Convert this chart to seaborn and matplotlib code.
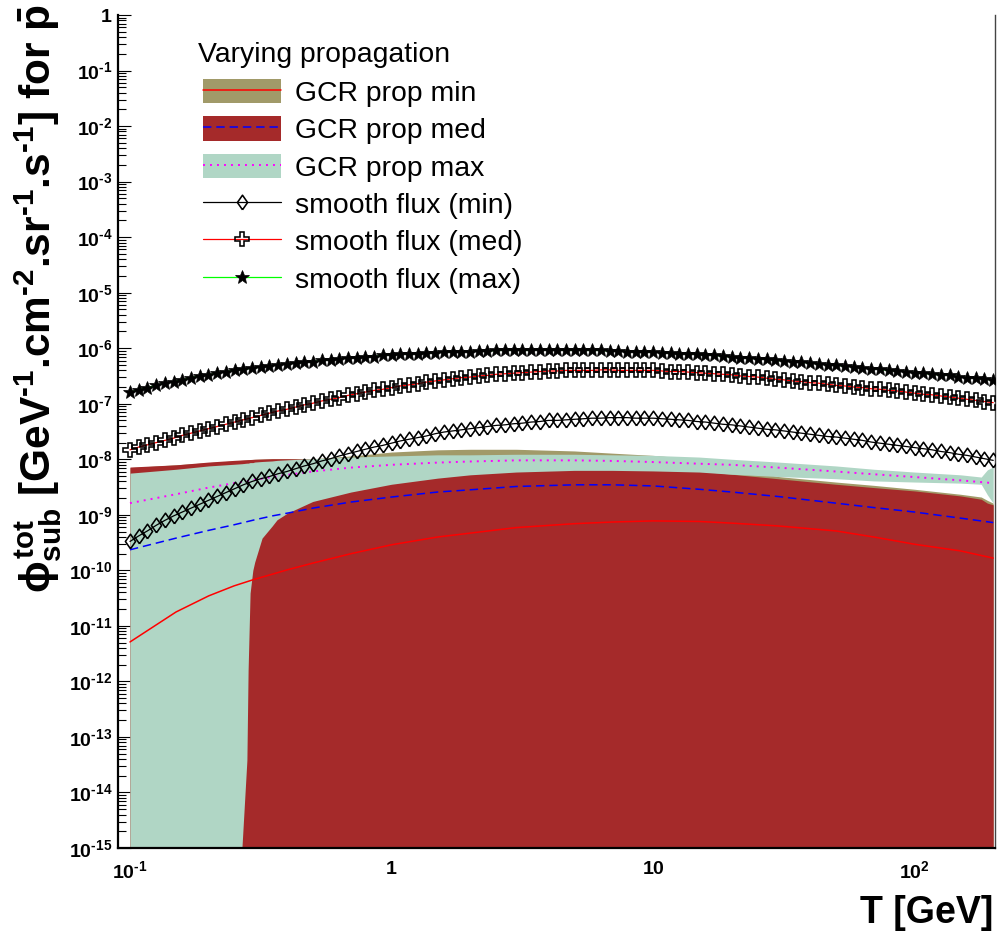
import numpy as np
import matplotlib
matplotlib.use("Agg")
import matplotlib.pyplot as plt
import seaborn as sns
from matplotlib.lines import Line2D
from matplotlib.patches import Patch
from matplotlib.legend_handler import HandlerTuple
from matplotlib.ticker import FixedLocator, FixedFormatter, LogLocator, NullFormatter

# ---------------- data (values are log10 of the flux) ----------------
T_GRID = [0.1, 0.108, 0.1166, 0.1259, 0.136, 0.1468, 0.1585, 0.1712, 0.1848, 0.1996,
          0.2155, 0.2327, 0.2513, 0.2713, 0.293, 0.3164, 0.3416, 0.3689, 0.3983, 0.4301,
          0.4644, 0.5015, 0.5415, 0.5847, 0.6314, 0.6817, 0.7361, 0.7949, 0.8583, 0.9268,
          1.0007, 1.0808, 1.1669, 1.2599, 1.361, 1.4691, 1.5862, 1.7133, 1.8494, 1.9975,
          2.1566, 2.3287, 2.5149, 2.716, 2.9322, 3.1663, 3.4195, 3.6917, 3.9869, 4.3052,
          4.6484, 5.0197, 5.42, 5.8523, 6.3197, 6.824, 7.3684, 7.9559, 8.5904, 9.2749,
          10.015, 10.816, 11.677, 12.609, 13.62, 14.702, 15.873, 17.145, 18.508, 19.99,
          21.582, 23.304, 25.167, 27.18, 29.343, 31.687, 34.221, 36.945, 39.899, 43.084,
          46.519, 50.234, 54.24, 58.567, 63.243, 68.291, 73.739, 79.618, 85.967, 92.817,
          100.22, 108.24, 116.86, 126.18, 136.3, 147.12, 158.85, 171.58, 185.21, 200.0]

smooth_max_log = [-6.79, -6.75, -6.71, -6.67, -6.63, -6.60, -6.57, -6.53, -6.50, -6.48,
                  -6.45, -6.42, -6.40, -6.38, -6.36, -6.34, -6.32, -6.30, -6.28, -6.27,
                  -6.25, -6.24, -6.22, -6.21, -6.19, -6.18, -6.17, -6.16, -6.15, -6.13,
                  -6.12, -6.11, -6.10, -6.10, -6.09, -6.08, -6.07, -6.07, -6.06, -6.06,
                  -6.05, -6.05, -6.04, -6.04, -6.04, -6.04, -6.04, -6.03, -6.03, -6.03,
                  -6.04, -6.04, -6.04, -6.04, -6.04, -6.05, -6.05, -6.06, -6.06, -6.07,
                  -6.07, -6.08, -6.09, -6.10, -6.10, -6.11, -6.12, -6.13, -6.14, -6.16,
                  -6.17, -6.18, -6.19, -6.20, -6.22, -6.23, -6.24, -6.25, -6.27, -6.28,
                  -6.30, -6.31, -6.32, -6.34, -6.35, -6.37, -6.38, -6.40, -6.41, -6.42,
                  -6.44, -6.45, -6.47, -6.48, -6.49, -6.51, -6.53, -6.54, -6.56, -6.57]

smooth_med_log = [-7.83, -7.78, -7.74, -7.70, -7.66, -7.62, -7.57, -7.53, -7.49, -7.45,
                  -7.41, -7.37, -7.33, -7.29, -7.25, -7.21, -7.17, -7.13, -7.10, -7.06,
                  -7.02, -6.99, -6.95, -6.92, -6.89, -6.85, -6.82, -6.79, -6.76, -6.74,
                  -6.71, -6.68, -6.66, -6.64, -6.61, -6.59, -6.57, -6.55, -6.53, -6.52,
                  -6.50, -6.49, -6.47, -6.46, -6.45, -6.44, -6.43, -6.42, -6.41, -6.41,
                  -6.40, -6.40, -6.40, -6.40, -6.39, -6.39, -6.40, -6.40, -6.40, -6.40,
                  -6.40, -6.41, -6.42, -6.42, -6.43, -6.44, -6.45, -6.46, -6.47, -6.48,
                  -6.50, -6.51, -6.52, -6.54, -6.56, -6.57, -6.59, -6.60, -6.62, -6.63,
                  -6.65, -6.67, -6.68, -6.70, -6.71, -6.73, -6.74, -6.76, -6.77, -6.79,
                  -6.81, -6.83, -6.84, -6.86, -6.88, -6.90, -6.92, -6.94, -6.96, -6.98]

smooth_min_log = [-9.48, -9.38, -9.29, -9.19, -9.10, -9.02, -8.95, -8.88, -8.81, -8.74,
                  -8.67, -8.60, -8.53, -8.46, -8.40, -8.35, -8.31, -8.26, -8.22, -8.17,
                  -8.12, -8.08, -8.03, -7.99, -7.94, -7.90, -7.86, -7.82, -7.78, -7.75,
                  -7.71, -7.67, -7.64, -7.61, -7.58, -7.54, -7.51, -7.49, -7.47, -7.45,
                  -7.43, -7.41, -7.39, -7.38, -7.36, -7.35, -7.33, -7.32, -7.30, -7.30,
                  -7.29, -7.28, -7.27, -7.26, -7.26, -7.25, -7.25, -7.25, -7.26, -7.26,
                  -7.26, -7.27, -7.28, -7.29, -7.30, -7.32, -7.33, -7.35, -7.37, -7.38,
                  -7.40, -7.42, -7.44, -7.46, -7.47, -7.49, -7.51, -7.53, -7.55, -7.57,
                  -7.59, -7.60, -7.62, -7.64, -7.66, -7.69, -7.71, -7.73, -7.75, -7.77,
                  -7.79, -7.81, -7.83, -7.86, -7.88, -7.91, -7.93, -7.96, -7.99, -8.02]

LINE_T = [0.1, 0.15, 0.2, 0.25, 0.3, 0.35, 0.4, 0.5, 0.7, 1, 1.5, 2, 3, 5, 7, 10,
          15, 20, 30, 50, 70, 100, 150, 200]
prop_min_central_log = [-11.29, -10.75, -10.46, -10.28, -10.16, -10.07, -9.99, -9.87, -9.70,
                        -9.54, -9.40, -9.33, -9.23, -9.16, -9.13, -9.11, -9.12, -9.15, -9.20,
                        -9.29, -9.40, -9.53, -9.65, -9.78]
prop_med_central_log = [-9.63, -9.42, -9.28, -9.18, -9.09, -9.02, -8.97, -8.88, -8.77, -8.68,
                        -8.59, -8.55, -8.49, -8.46, -8.46, -8.48, -8.54, -8.59, -8.67, -8.79,
                        -8.87, -8.95, -9.06, -9.14]
prop_max_central_log = [-8.79, -8.63, -8.51, -8.43, -8.37, -8.32, -8.28, -8.22, -8.15, -8.10,
                        -8.06, -8.04, -8.02, -8.02, -8.03, -8.05, -8.08, -8.10, -8.15, -8.22,
                        -8.27, -8.32, -8.38, -8.43]

BAND_T = [0.1, 0.15, 0.2, 0.25, 0.3, 0.35, 0.4, 0.5, 0.7, 1, 1.5, 2, 3, 5, 7, 10,
          15, 20, 30, 50, 70, 100, 150, 180, 190, 200]
band_min_hi_log = [-8.15, -8.10, -8.06, -8.03, -8.00, -7.99, -7.99, -7.99, -7.94, -7.87,
                   -7.83, -7.82, -7.82, -7.85, -7.89, -7.93, -8.00, -8.12, -8.31, -8.41,
                   -8.47, -8.54, -8.63, -8.68, -8.74, -8.79]
band_min_lo_log = [-20, -20, -20, -20, -20, -20, -20, -20, -20, -20, -20, -20, -20,
                   -20, -20, -20, -20, -20, -20, -20, -20, -20, -20, -20, -20, -20]
band_med_hi_log = [-8.14, -8.10, -8.05, -8.02, -8.00, -7.99, -7.99, -8.00, -8.01, -8.03,
                   -8.05, -8.07, -8.10, -8.12, -8.14, -8.17, -8.21, -8.27, -8.35, -8.45,
                   -8.51, -8.57, -8.66, -8.72, -8.79, -8.82]
band_med_lo_log = [-20, -20, -20, -20, -20, -20, -20, -20, -20, -20, -20, -20, -20,
                   -20, -20, -20, -20, -20, -20, -20, -20, -20, -20, -20, -20, -20]

MAX_BAND_T = [0.1, 0.15, 0.2, 0.25, 0.268, 0.28, 0.283, 0.288, 0.295, 0.3, 0.32, 0.35,
              0.365, 0.4, 0.5, 0.7, 1, 1.5, 2, 3, 5, 7, 10, 15, 20, 30, 50, 70, 100,
              150, 180, 190, 200]
band_max_hi_log = [-8.25, -8.18, -8.12, -8.09, -8.08, -8.07, -8.07, -8.06, -8.06, -8.05,
                   -8.04, -8.03, -8.02, -8.01, -7.99, -7.96, -7.94, -7.92, -7.92, -7.91,
                   -7.91, -7.92, -7.93, -7.96, -8.00, -8.05, -8.12, -8.18, -8.23, -8.28,
                   -8.32, -8.19, -8.14]
band_max_lo_log = [-20, -20, -20, -20, -15.0, -13.42, -11.80, -10.41, -10.00, -9.85,
                   -9.42, -9.20, -9.09, -8.97, -8.76, -8.59, -8.45, -8.34, -8.28, -8.23,
                   -8.20, -8.20, -8.21, -8.23, -8.27, -8.31, -8.35, -8.39, -8.41, -8.43,
                   -8.45, -8.64, -8.79]

LEGEND_TITLE = "Varying propagation"
LEGEND_LABELS = ["GCR prop min", "GCR prop med", "GCR prop max",
                 "smooth flux (min)", "smooth flux (med)", "smooth flux (max)"]
HY = "\u2010"
X_TICKS = [0.1, 1, 10, 100]
X_TICK_LABELS = [r"$10^{" + HY + "1}$", r"$1$", r"$10$", r"$10^{2}$"]
Y_TICKS = [10.0 ** k for k in range(-15, 1)]
Y_TICK_LABELS = [r"$10^{" + HY + "%d}$" % (-k) for k in range(-15, 0)] + [r"$1$"]
X_LABEL = "T [GeV]"
Y_LABEL = (r"$\phi^{tot}_{sub}$ [GeV$^{" + HY + "1}$.cm$^{" + HY + "2}$.sr$^{" + HY +
           "1}$.s$^{" + HY + r"1}$] for $\bar{p}$")

# ---------------- style ----------------
sns.set_theme(style="ticks")
plt.rcParams["font.family"] = ["Liberation Sans", "DejaVu Sans"]
plt.rcParams["mathtext.fontset"] = "custom"
plt.rcParams["mathtext.rm"] = "Liberation Sans:bold"
plt.rcParams["mathtext.it"] = "Liberation Sans:bold"
plt.rcParams["mathtext.bf"] = "Liberation Sans:bold"
plt.rcParams["mathtext.sf"] = "Liberation Sans:bold"
for k in ["text.color", "axes.labelcolor", "xtick.color", "ytick.color",
          "xtick.labelcolor", "ytick.labelcolor"]:
    plt.rcParams[k] = "black"

OLIVE = "#a19a69"
BROWN = "#a52a2a"
MINT = "#b0d6c5"

fig = plt.figure(figsize=(9.97, 9.36), dpi=100)
ax = fig.add_axes([118 / 997, 88 / 936, 877 / 997, 833 / 936])
ax.set_xscale("log")
ax.set_yscale("log")

def p10(a):
    return 10.0 ** np.asarray(a, dtype=float)

ax.fill_between(BAND_T, p10(band_min_lo_log), p10(band_min_hi_log), color=OLIVE, lw=0, zorder=1.0)
ax.fill_between(BAND_T, p10(band_med_lo_log), p10(band_med_hi_log), color=BROWN, lw=0, zorder=1.1)
ax.fill_between(MAX_BAND_T, p10(band_max_lo_log), p10(band_max_hi_log), color=MINT, lw=0, zorder=1.2)

sns.lineplot(x=LINE_T, y=p10(prop_min_central_log), ax=ax, color="#ff0000", lw=1.1,
             estimator=None, sort=False, legend=False, zorder=2)
sns.lineplot(x=LINE_T, y=p10(prop_med_central_log), ax=ax, color="#0000ff", lw=1.1,
             estimator=None, sort=False, legend=False, zorder=2)
ax.lines[-1].set_dashes([5.5, 3.2])
sns.lineplot(x=LINE_T, y=p10(prop_max_central_log), ax=ax, color="#ff00ff", lw=1.4,
             estimator=None, sort=False, legend=False, zorder=2)
ax.lines[-1].set_dashes([1.0, 2.6])

DIAMOND = [(0, -1), (0.7, 0), (0, 1), (-0.7, 0), (0, -1)]
MS_D, MS_P, MS_S = 10.5, 10.0, 10.5
sns.lineplot(x=T_GRID, y=p10(smooth_min_log), ax=ax, color="black", lw=0.9,
             marker=DIAMOND, markersize=MS_D, markerfacecolor="none",
             markeredgecolor="black", markeredgewidth=1.15,
             estimator=None, sort=False, legend=False, zorder=3)
sns.lineplot(x=T_GRID, y=p10(smooth_med_log), ax=ax, color="#ff0000", lw=0.9,
             marker="P", markersize=MS_P, markerfacecolor="none",
             markeredgecolor="black", markeredgewidth=1.15,
             estimator=None, sort=False, legend=False, zorder=3)
sns.lineplot(x=T_GRID, y=p10(smooth_max_log), ax=ax, color="#00ff00", lw=0.9,
             marker="*", markersize=MS_S, markerfacecolor="black",
             markeredgecolor="black", markeredgewidth=0.5,
             estimator=None, sort=False, legend=False, zorder=3)

ax.set_xlim(0.0900, 203.2)
ax.set_ylim(1e-15, 1)

ax.xaxis.set_major_locator(FixedLocator(X_TICKS))
ax.xaxis.set_major_formatter(FixedFormatter(X_TICK_LABELS))
ax.yaxis.set_major_locator(FixedLocator(Y_TICKS))
ax.yaxis.set_major_formatter(FixedFormatter(Y_TICK_LABELS))
ax.xaxis.set_minor_locator(LogLocator(base=10, subs=np.arange(2, 10), numticks=100))
ax.yaxis.set_minor_locator(LogLocator(base=10, subs=np.arange(2, 10), numticks=100))
ax.xaxis.set_minor_formatter(NullFormatter())
ax.yaxis.set_minor_formatter(NullFormatter())

ax.tick_params(axis="y", which="major", direction="in", length=9, width=0.8,
               color="black", labelsize=14, pad=4)
ax.tick_params(axis="y", which="minor", direction="in", length=6, width=0.8, color="black")
ax.tick_params(axis="x", which="both", direction="in", length=3, width=0.8,
               color="white", labelsize=14, pad=9)
ax.tick_params(axis="x", which="major", length=4)

for s in ["left", "bottom"]:
    ax.spines[s].set_linewidth(1.6)
    ax.spines[s].set_color("black")
ax.spines["top"].set_visible(False)
ax.spines["right"].set_linewidth(1.0)
ax.spines["right"].set_color("#444444")
ax.set_facecolor("white")
ax.set_xlabel("")
ax.set_ylabel("")

handles = [
    (Patch(facecolor=OLIVE, edgecolor="none"), Line2D([], [], color="#ff0000", lw=1.1)),
    (Patch(facecolor=BROWN, edgecolor="none"), Line2D([], [], color="#0000ff", lw=1.1, dashes=[5.5, 3.2])),
    (Patch(facecolor=MINT, edgecolor="none"), Line2D([], [], color="#ff00ff", lw=1.4, dashes=[1.0, 2.6])),
    Line2D([], [], color="black", lw=0.9, marker=DIAMOND, markersize=MS_D,
           markerfacecolor="none", markeredgecolor="black", markeredgewidth=1.15),
    Line2D([], [], color="#ff0000", lw=0.9, marker="P", markersize=MS_P,
           markerfacecolor="none", markeredgecolor="black", markeredgewidth=1.15),
    Line2D([], [], color="#00ff00", lw=0.9, marker="*", markersize=MS_S,
           markerfacecolor="black", markeredgecolor="black", markeredgewidth=0.5),
]
leg = ax.legend(handles, LEGEND_LABELS, loc="upper left",
                bbox_to_anchor=(203 / 997, 1 - 79 / 936), bbox_transform=fig.transFigure,
                frameon=False, fontsize=20.4, handlelength=2.75,
                handleheight=0.95, labelspacing=0.33, handletextpad=0.5, borderpad=0,
                borderaxespad=0, numpoints=1,
                handler_map={tuple: HandlerTuple(ndivide=1)})
leg.set_zorder(5)
fig.text(198 / 997, 1 - 55 / 936, LEGEND_TITLE, ha="left", va="center", fontsize=20.4)

fig.text(38 / 997, 1 - 4 / 936, Y_LABEL, rotation=90, ha="center", va="top",
         fontsize=30.5, fontweight="bold")
fig.text(993 / 997, 1 - 913 / 936, X_LABEL, ha="right", va="center",
         fontsize=27, fontweight="bold")

fig.savefig("out.png", dpi=100)
